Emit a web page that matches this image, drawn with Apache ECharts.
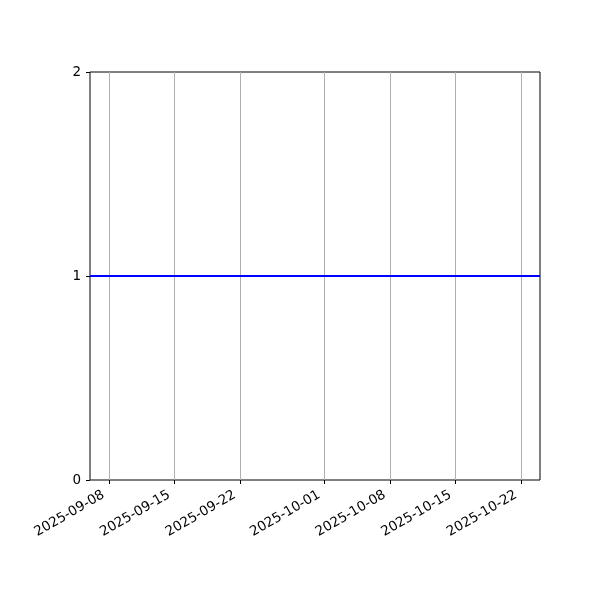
<!DOCTYPE html>
<html>
<head>
	<meta charset="UTF-8">
	<title>chart</title>
	<style>
		html, body { margin: 0; padding: 0; background: #fff; }
		#container { width: 600px; height: 600px; }
	</style>
</head>
<body>
	<div id="container"></div>
	<script src="https://cdn.jsdelivr.net/npm/echarts@6/dist/echarts.min.js"></script>
	<script>
		// data
		var dates = ['2025-09-06', '2025-10-24'];
		var values = [1, 1];
		var tickDates = ['2025-09-08', '2025-09-15', '2025-09-22', '2025-10-01', '2025-10-08', '2025-10-15', '2025-10-22'];
		var yTicks = [0, 1, 2];

		function toTime(s) {
			var p = s.split('-');
			return Date.UTC(+p[0], +p[1] - 1, +p[2]);
		}
		function pad(n) { return (n < 10 ? '0' : '') + n; }
		function fmtDate(v) {
			var d = new Date(v);
			return d.getUTCFullYear() + '-' + pad(d.getUTCMonth() + 1) + '-' + pad(d.getUTCDate());
		}

		var seriesData = dates.map(function (d, i) { return [toTime(d), values[i]]; });
		var tickValues = tickDates.map(toTime);

		var myChart = echarts.init(document.getElementById('container'));
		var font = 'DejaVu Sans';

		var option = {
			animation: false,
			grid: {
				left: 90, right: 60, top: 72, bottom: 120,
				show: true, borderColor: '#000', borderWidth: 1, backgroundColor: 'transparent'
			},
			xAxis: {
				type: 'value',
				min: toTime(dates[0]),
				max: toTime(dates[dates.length - 1]),
				axisLine: { show: false, onZero: false },
				axisTick: { show: true, length: 4, lineStyle: { color: '#000' }, customValues: tickValues },
				axisLabel: {
					customValues: tickValues,
					rotate: 30,
					color: '#000',
					fontFamily: font,
					fontSize: 13.5,
					margin: 11,
					padding: [0, 6, 0, 0],
					formatter: function (v) { return fmtDate(v); }
				},
				splitLine: { show: true, lineStyle: { color: '#b0b0b0', width: 1 } }
			},
			yAxis: {
				type: 'value',
				min: yTicks[0],
				max: yTicks[yTicks.length - 1],
				interval: 1,
				axisLine: { show: false },
				axisTick: { show: true, length: 4, lineStyle: { color: '#000' } },
				axisLabel: { color: '#000', fontFamily: font, fontSize: 13.5, margin: 9 },
				splitLine: { show: false }
			},
			series: [{
				type: 'line',
				data: seriesData,
				showSymbol: false,
				lineStyle: { color: '#0000ff', width: 2 },
				itemStyle: { color: '#0000ff' }
			}]
		};

		if (option && typeof option === "object") {
			myChart.setOption(option, true);
		}
	</script>
</body>
</html>
